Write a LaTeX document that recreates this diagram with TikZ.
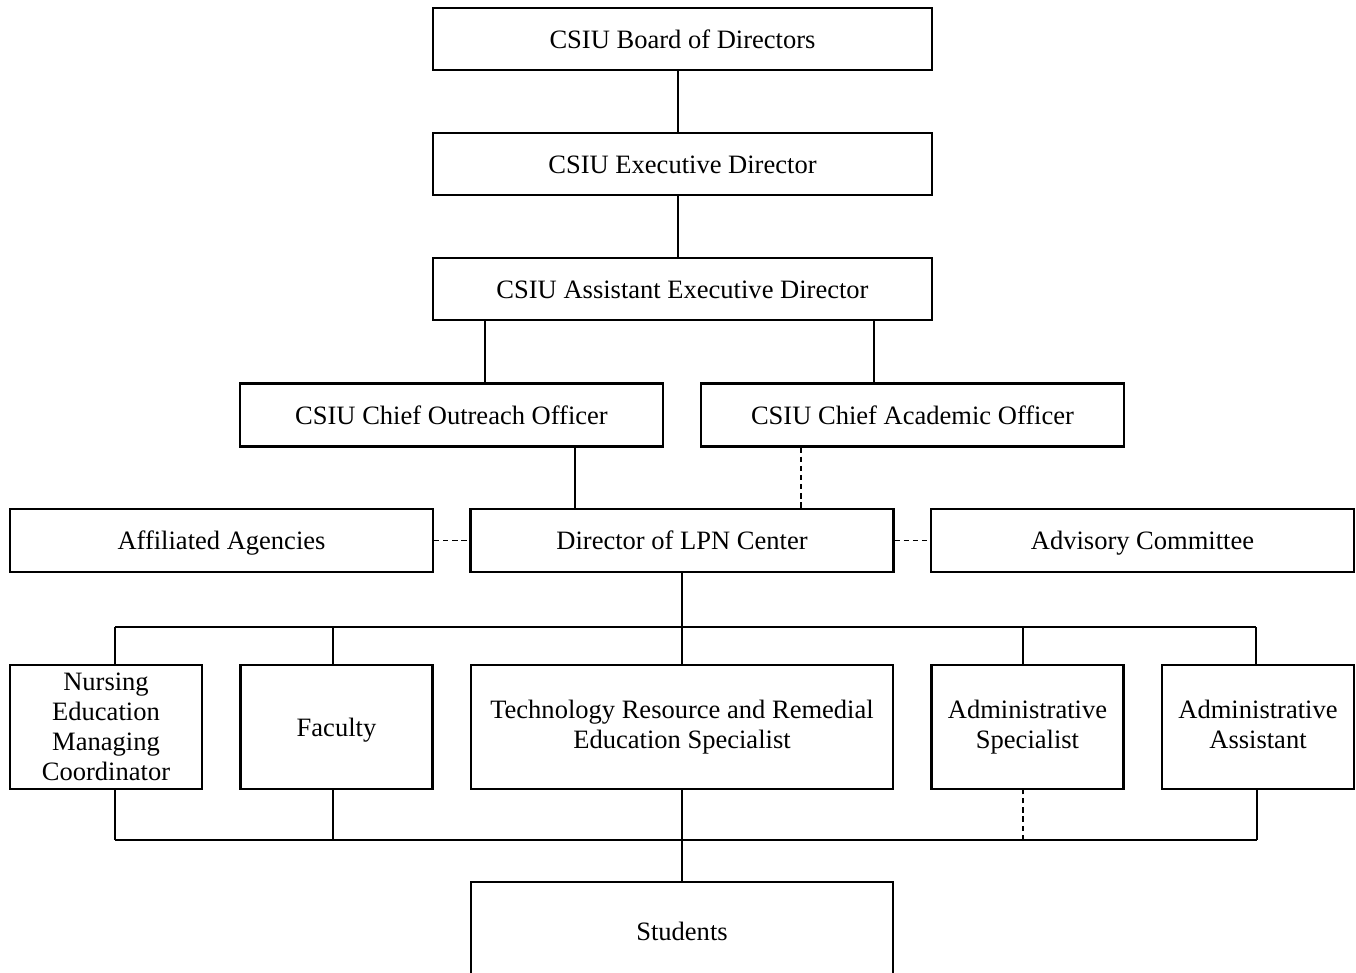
\documentclass[tikz,border=0pt]{standalone}
\usepackage{fontspec}
\setmainfont{Liberation Serif}
\tikzset{
  frame/.style={draw, line width=1.2pt, align=center, inner xsep=2pt, inner ysep=0pt,
    font=\fontsize{15.1}{17}\selectfont},
  unit/.style={frame, execute at begin node={\rule{0pt}{14pt}}, execute at end node={\rule[-3.4pt]{0pt}{3.4pt}}},
  wide/.style={unit, minimum width=9.98cm, minimum height=1.24cm},
  mid/.style={unit, minimum width=8.46cm, minimum height=1.26cm},
  small/.style={unit, minimum width=3.84cm, minimum height=2.48cm},
  tall/.style={frame, minimum width=3.84cm, minimum height=2.48cm, execute at begin node={\rule{0pt}{17pt}}},
  big/.style={unit, minimum width=8.44cm, minimum height=2.48cm},
  link/.style={line width=0.9pt},
  dotlink/.style={link, dash pattern=on 3pt off 2.2pt}
}
\begin{document}
\begin{tikzpicture}[x=0.02cm, y=-0.02cm]
	\useasboundingbox (0,0) rectangle (1356,973);
	\clip (0,0) rectangle (1356,973);
	% top of the chart
	\node [wide] (board) at (682.5,39) {CSIU Board of Directors};
	\node [wide] (exec) at (682.5,164) {CSIU Executive Director};
	\node [wide] (asst) at (682.5,289) {CSIU Assistant Executive Director};
	\node [mid] (outreach) at (451.5,415) {CSIU Chief Outreach Officer};
	\node [mid] (academic) at (912.5,415) {CSIU Chief Academic Officer};
	\node [mid] (affiliated) at (221.5,540.5) {Affiliated Agencies};
	\node [mid] (director) at (682,540.5) {Director of LPN Center};
	\node [mid] (advisory) at (1142.5,540.5) {Advisory Committee};
	% staff row
	\node [tall] (nursing) at (106,727) {Nursing\\Education\\Managing\\Coordinator};
	\node [small] (faculty) at (336.5,727) {Faculty};
	\node [big] (tech) at (682,727) {Technology Resource and Remedial\\Education Specialist};
	\node [small] (adminspec) at (1027.5,727) {Administrative\\Specialist};
	\node [small] (adminasst) at (1258,727) {Administrative\\Assistant};
	\node [unit, minimum width=8.44cm, minimum height=1.96cm] (students) at (682,931) {Students};
	% bus lines
	\coordinate (topleft) at (115,627);
	\coordinate (topright) at (1256,627);
	\coordinate (botleft) at (115,840);
	\coordinate (botright) at (1257,840);
	\draw [link] (678,0 |- board.south) -- (678,0 |- exec.north);
	\draw [link] (678,0 |- exec.south) -- (678,0 |- asst.north);
	\draw [link] (485,0 |- asst.south) -- (485,0 |- outreach.north);
	\draw [link] (874,0 |- asst.south) -- (874,0 |- academic.north);
	\draw [link] (575,0 |- outreach.south) -- (575,0 |- director.north);
	\draw [dotlink] (801,0 |- academic.south) -- (801,0 |- director.north);
	\draw [dotlink] (affiliated.east) -- (director.west);
	\draw [dotlink] (director.east) -- (advisory.west);
	\draw [link] (director.south) -- (director.south |- topleft);
	\draw [link] (topleft) -- (topright);
	\draw [link] (topleft) -- (topleft |- nursing.north);
	\draw [link] (333,627) -- (333,0 |- faculty.north);
	\draw [link] (tech.north |- topleft) -- (tech.north);
	\draw [link] (1023,627) -- (1023,0 |- adminspec.north);
	\draw [link] (topright) -- (topright |- adminasst.north);
	\draw [link] (botleft) -- (botright);
	\draw [link] (botleft) -- (botleft |- nursing.south);
	\draw [link] (333,840) -- (333,0 |- faculty.south);
	\draw [link] (tech.south) -- (students.north);
	\draw [dotlink] (1023,840) -- (1023,0 |- adminspec.south);
	\draw [link] (botright) -- (botright |- adminasst.south);
\end{tikzpicture}
\end{document}
